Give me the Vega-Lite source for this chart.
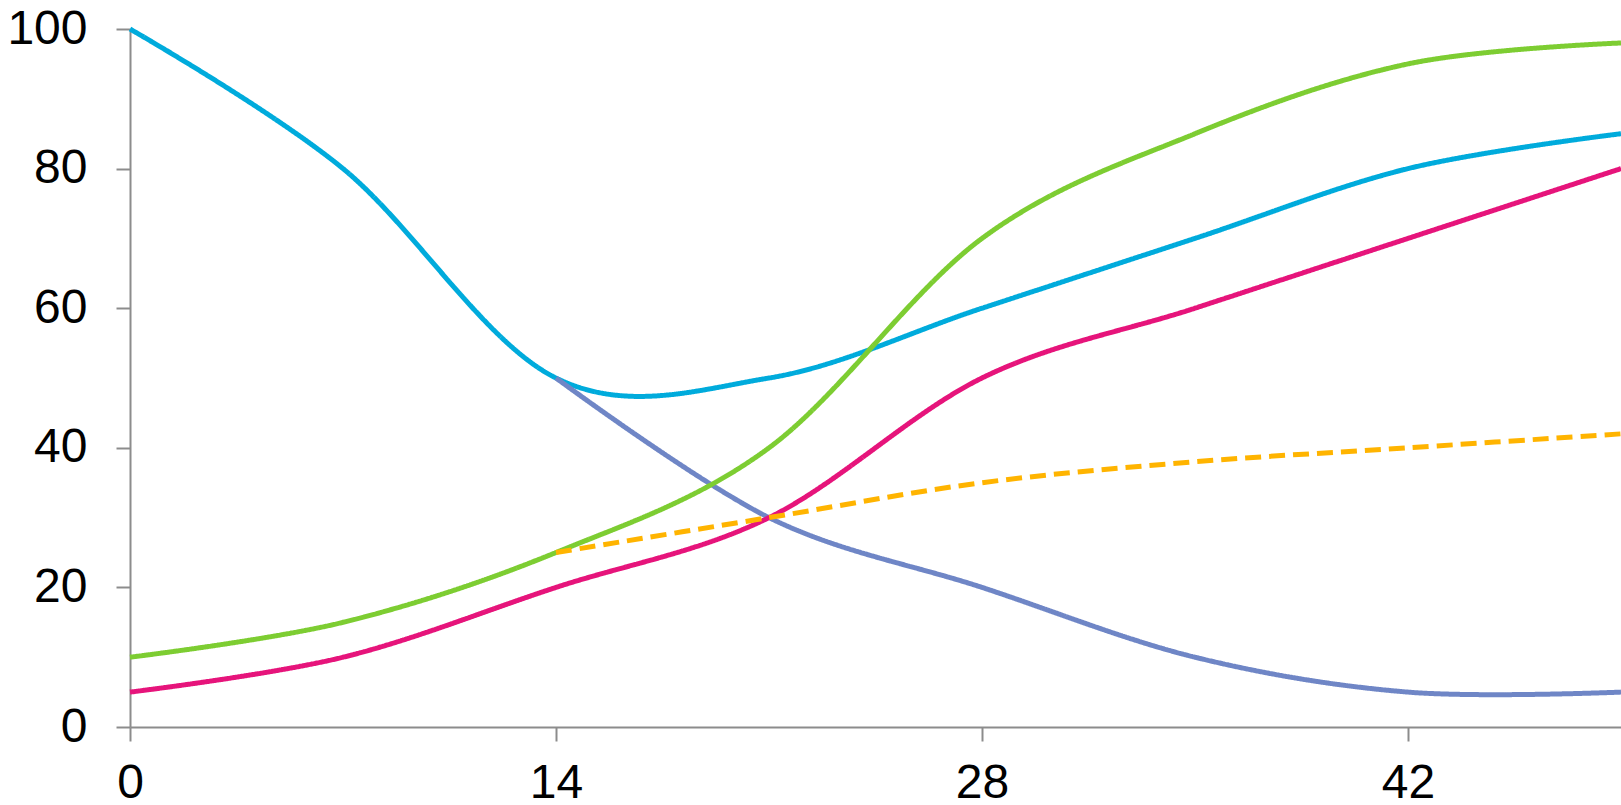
{
  "$schema": "https://vega.github.io/schema/vega-lite/v6.json",
  "width": 1491,
  "height": 698,
  "autosize": {"type": "none"},
  "padding": {"left": 130, "top": 29, "right": 0, "bottom": 78},
  "background": "white",
  "config": {"view": {"stroke": null}, "font": "Liberation Sans"},
  "data": {
    "values": [
      {"series": "A", "day": 0, "value": 100},
      {"series": "A", "day": 7, "value": 80},
      {"series": "A", "day": 14, "value": 50},
      {"series": "A", "day": 21, "value": 50},
      {"series": "A", "day": 28, "value": 60},
      {"series": "A", "day": 35, "value": 70},
      {"series": "A", "day": 42, "value": 80},
      {"series": "A", "day": 49, "value": 85},
      {"series": "B", "day": 14, "value": 50},
      {"series": "B", "day": 21, "value": 30},
      {"series": "B", "day": 28, "value": 20},
      {"series": "B", "day": 35, "value": 10},
      {"series": "B", "day": 42, "value": 5},
      {"series": "B", "day": 49, "value": 5},
      {"series": "C", "day": 0, "value": 10},
      {"series": "C", "day": 7, "value": 15},
      {"series": "C", "day": 14, "value": 25},
      {"series": "C", "day": 21, "value": 40},
      {"series": "C", "day": 28, "value": 70},
      {"series": "C", "day": 35, "value": 85},
      {"series": "C", "day": 42, "value": 95},
      {"series": "C", "day": 49, "value": 98},
      {"series": "D", "day": 0, "value": 5},
      {"series": "D", "day": 7, "value": 10},
      {"series": "D", "day": 14, "value": 20},
      {"series": "D", "day": 21, "value": 30},
      {"series": "D", "day": 28, "value": 50},
      {"series": "D", "day": 35, "value": 60},
      {"series": "D", "day": 42, "value": 70},
      {"series": "D", "day": 49, "value": 80},
      {"series": "E", "day": 14, "value": 25},
      {"series": "E", "day": 21, "value": 30},
      {"series": "E", "day": 28, "value": 35},
      {"series": "E", "day": 35, "value": 38},
      {"series": "E", "day": 42, "value": 40},
      {"series": "E", "day": 49, "value": 42}
    ]
  },
  "mark": {"type": "line", "interpolate": "cardinal", "tension": 0, "strokeWidth": 5, "clip": false},
  "encoding": {
    "x": {
      "field": "day",
      "type": "quantitative",
      "scale": {"domain": [0, 49], "nice": false, "zero": false},
      "axis": {
        "values": [0, 14, 28, 42],
        "title": null,
        "grid": false,
        "domainColor": "#8c8c8c",
        "domainWidth": 2,
        "tickColor": "#8c8c8c",
        "tickWidth": 2,
        "tickSize": 14,
        "labelFontSize": 48,
        "labelColor": "#000000",
        "labelPadding": 18,
        "labelFlush": false
      }
    },
    "y": {
      "field": "value",
      "type": "quantitative",
      "scale": {"domain": [0, 100], "nice": false},
      "axis": {
        "values": [0, 20, 40, 60, 80, 100],
        "title": null,
        "grid": false,
        "domainColor": "#8c8c8c",
        "domainWidth": 2,
        "tickColor": "#8c8c8c",
        "tickWidth": 2,
        "tickSize": 14,
        "labelFontSize": 48,
        "labelColor": "#000000",
        "labelPadding": 29,
        "labelFlush": false
      }
    },
    "color": {
      "field": "series",
      "type": "nominal",
      "scale": {"domain": ["A", "B", "C", "D", "E"], "range": ["#00abdc", "#6f86c6", "#7dcd32", "#e6147b", "#ffb400"]},
      "legend": null
    },
    "strokeDash": {
      "field": "series",
      "type": "nominal",
      "scale": {"domain": ["A", "B", "C", "D", "E"], "range": [[1, 0], [1, 0], [1, 0], [1, 0], [16, 8]]},
      "legend": null
    }
  }
}
